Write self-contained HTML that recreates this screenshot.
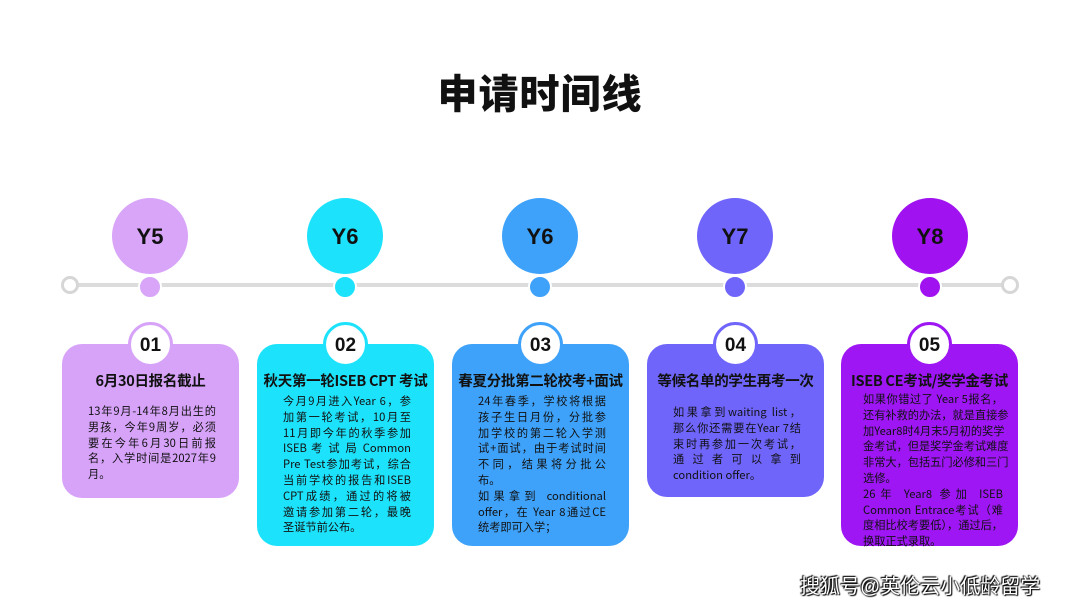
<!DOCTYPE html>
<html><head><meta charset="utf-8"><style>
*{margin:0;padding:0;box-sizing:border-box}
body{width:1080px;height:608px;background:#fff;position:relative;overflow:hidden;font-family:"Liberation Sans","Noto Sans CJK SC",sans-serif;color:#111}
.abs{position:absolute}
h1{position:absolute;left:0;width:1080px;top:62px;text-align:center;font-size:40px;font-weight:900;letter-spacing:1px}
.big{position:absolute;width:76px;height:76px;border-radius:50%;top:198px;text-align:center;line-height:78px;font-weight:bold;font-size:22px}
.dot{position:absolute;width:24px;height:24px;border-radius:50%;top:275px;border:2px solid #fff}
.card{position:absolute;top:344px;width:177px;border-radius:20px}
.num{position:absolute;left:66px;top:-22px;width:45px;height:45px;border-radius:50%;background:#fff;border:3px solid;text-align:center;line-height:41px;font-weight:bold;font-size:19px}
.t{position:absolute;left:0;width:100%;top:26px;text-align:center;font-weight:bold;font-size:14.5px;white-space:nowrap;font-family:"Noto Sans CJK SC",sans-serif;letter-spacing:-0.3px}
.b{position:absolute;left:25px;width:128px;font-size:11.2px;line-height:15.8px;font-family:"Noto Sans CJK SC",sans-serif}
.b div{text-align:justify;text-align-last:justify;white-space:nowrap}
.b div.l{text-align-last:left}
</style></head><body>
<h1>申请时间线</h1>
<div class="abs" style="left:70px;top:283px;width:940px;height:4px;background:#dcdcdc"></div>
<div class="abs" style="left:61px;top:276px;width:18px;height:18px;border-radius:50%;border:3.5px solid #d6d6d6;background:#fff"></div>
<div class="abs" style="left:1001px;top:276px;width:18px;height:18px;border-radius:50%;border:3.5px solid #d6d6d6;background:#fff"></div>

<div class="big" style="left:112px;background:#d8a5f9">Y5</div>
<div class="big" style="left:307px;background:#1de2fb">Y6</div>
<div class="big" style="left:502px;background:#3fa2fa">Y6</div>
<div class="big" style="left:697px;background:#6f65fb">Y7</div>
<div class="big" style="left:892px;background:#a013f0">Y8</div>

<div class="dot" style="left:138px;background:#d8a5f9"></div>
<div class="dot" style="left:333px;background:#1de2fb"></div>
<div class="dot" style="left:528px;background:#3fa2fa"></div>
<div class="dot" style="left:723px;background:#6f65fb"></div>
<div class="dot" style="left:918px;background:#a013f0"></div>

<div class="card" style="left:62px;height:154px;background:#d7a3f9">
<div class="num" style="border-color:#d7a3f9">01</div>
<div class="t">6月30日报名截止</div>
<div class="b" style="top:60px;left:26px"><div>13年9月-14年8月出生的</div><div>男孩，今年9周岁，必须</div><div>要在今年6月30日前报</div><div>名，入学时间是2027年9</div><div class="l">月。</div></div>
</div>

<div class="card" style="left:257px;height:202px;background:#1de2fb">
<div class="num" style="border-color:#1de2fb">02</div>
<div class="t">秋天第一轮ISEB CPT 考试</div>
<div class="b" style="top:50px;left:26px"><div>今月9月进入Year 6，参</div><div>加第一轮考试，10月至</div><div>11月即今年的秋季参加</div><div>ISEB 考 试 局 Common</div><div>Pre Test参加考试，综合</div><div>当前学校的报告和ISEB</div><div>CPT成绩，通过的将被</div><div>邀请参加第二轮，最晚</div><div class="l">圣诞节前公布。</div></div>
</div>

<div class="card" style="left:452px;height:202px;background:#3fa2fa">
<div class="num" style="border-color:#3fa2fa">03</div>
<div class="t">春夏分批第二轮校考+面试</div>
<div class="b" style="top:50px;left:26px"><div>24年春季，学校将根据</div><div>孩子生日月份，分批参</div><div>加学校的第二轮入学测</div><div>试+面试，由于考试时间</div><div>不同，结果将分批公</div><div class="l">布。</div><div>如果拿到 conditional</div><div>offer，在 Year 8通过CE</div><div class="l">统考即可入学；</div></div>
</div>

<div class="card" style="left:647px;height:153px;background:#6f65fb">
<div class="num" style="border-color:#6f65fb">04</div>
<div class="t">等候名单的学生再考一次</div>
<div class="b" style="top:61px;left:26px"><div>如果拿到waiting list，</div><div>那么你还需要在Year 7结</div><div>束时再参加一次考试，</div><div>通过者可以拿到</div><div class="l">condition offer。</div></div>
</div>

<div class="card" style="left:841px;height:202px;background:#9d16f3">
<div class="num" style="border-color:#9d16f3">05</div>
<div class="t">ISEB CE考试/奖学金考试</div>
<div class="b" style="top:48px;left:22px;width:140px"><div>如果你错过了 Year 5报名，</div><div>还有补救的办法，就是直接参</div><div>加Year8时4月末5月初的奖学</div><div>金考试，但是奖学金考试难度</div><div>非常大，包括五门必修和三门</div><div class="l">选修。</div><div>26年 Year8 参加 ISEB</div><div>Common Entrace考试（难</div><div>度相比校考要低），通过后，</div><div class="l">换取正式录取。</div></div>
</div>

<div class="abs" style="left:800px;top:570px;font-size:20px;color:#fff;text-shadow:0 0 2px #000,1px 1px 1px #000,-1px -1px 1px #000;white-space:nowrap">搜狐号@英伦云小低龄留学</div>
</body></html>
